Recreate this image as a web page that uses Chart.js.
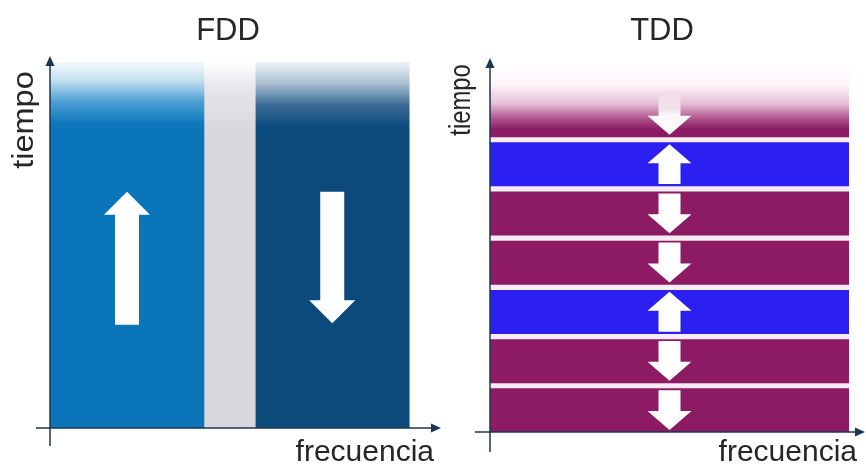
<!DOCTYPE html>
<html lang="es">
<head>
  <meta charset="UTF-8" />
  <title>FDD y TDD</title>
  <script src="https://cdn.jsdelivr.net/npm/chart.js"></script>
  <style>
    body {
      margin: 0;
      background: #ffffff;
      width: 866px;
      height: 469px;
      overflow: hidden;
      position: relative;
    }
    #fdd { position: absolute; left: 0; top: 0; }
    #tdd { position: absolute; left: 433px; top: 0; }
  </style>
</head>
<body>
  <canvas id="fdd" width="450" height="469"></canvas>
  <canvas id="tdd" width="433" height="469"></canvas>

  <script>
    // --- FDD: bandas en frecuencia (unidades arbitrarias) ---
    const fddBandas = ['Subida', 'Guarda', 'Bajada'];
    const fddDesde = [0, 3, 4];
    const fddHasta = [3, 4, 7];
    const fddFrecMax = 7.6;
    // flechas FDD: frecuencia central y tiempo inicio -> fin (escala 0..10)
    const fddFlechaFrec = [1.5, 5.5];
    const fddFlechaDesde = [2.6, 6.6];
    const fddFlechaHasta = [6.6, 2.65];
    const fddTiempoMax = 10;

    // --- TDD: ranuras de tiempo, de abajo hacia arriba ---
    const tddRanuras = ['DL', 'DL', 'UL', 'DL', 'DL', 'UL', 'DL'];
    const tddDesde = [0, 1, 2, 3, 4, 5, 6];
    const tddHasta = [0.88, 1.88, 2.88, 3.88, 4.88, 5.88, 7.5];
    const tddTiempoMax = 7.5;
    // flechas TDD: tiempo inicio / fin de cada flecha dentro de su ranura
    const tddFlechaBajo = [0.04, 1.04, 2.04, 3.04, 4.04, 5.04, 6.04];
    const tddFlechaAlto = [0.85, 1.85, 2.85, 3.85, 4.85, 5.85, 6.85];

    const colorEje = '#1d3650';
    const fuente = '"Liberation Sans", Arial, sans-serif';

    function flecha(ctx, x, yDe, yA, ancho, anchoPunta, largoPunta) {
      const dir = yA > yDe ? 1 : -1;
      const yBase = yA - dir * largoPunta;
      ctx.beginPath();
      ctx.moveTo(x - ancho / 2, yDe);
      ctx.lineTo(x + ancho / 2, yDe);
      ctx.lineTo(x + ancho / 2, yBase);
      ctx.lineTo(x + anchoPunta / 2, yBase);
      ctx.lineTo(x, yA);
      ctx.lineTo(x - anchoPunta / 2, yBase);
      ctx.lineTo(x - ancho / 2, yBase);
      ctx.closePath();
      ctx.fill();
    }

    function ejes(ctx, x0, y0, xIni, xFin, yArriba, yAbajo) {
      ctx.save();
      ctx.strokeStyle = colorEje;
      ctx.fillStyle = colorEje;
      ctx.lineWidth = 1.5;
      ctx.beginPath();
      ctx.moveTo(xIni, y0);
      ctx.lineTo(xFin - 8, y0);
      ctx.moveTo(x0, yAbajo);
      ctx.lineTo(x0, yArriba + 8);
      ctx.stroke();
      ctx.beginPath();
      ctx.moveTo(xFin, y0);
      ctx.lineTo(xFin - 10, y0 - 4.5);
      ctx.lineTo(xFin - 10, y0 + 4.5);
      ctx.closePath();
      ctx.fill();
      ctx.beginPath();
      ctx.moveTo(x0, yArriba);
      ctx.lineTo(x0 - 4.5, yArriba + 10);
      ctx.lineTo(x0 + 4.5, yArriba + 10);
      ctx.closePath();
      ctx.fill();
      ctx.restore();
    }

    // escalaTiempo: estira/comprime la palabra "tiempo" a lo largo del eje
    function textos(ctx, titulo, xTitulo, escalaTiempo, xTiempo, yTiempo, xFrec) {
      ctx.save();
      ctx.fillStyle = '#262626';
      ctx.font = '31px ' + fuente;
      ctx.textAlign = 'center';
      ctx.textBaseline = 'alphabetic';
      ctx.fillText(titulo, xTitulo, 40);
      ctx.font = '30px ' + fuente;
      ctx.textAlign = 'right';
      ctx.fillText('frecuencia', xFrec, 461);
      ctx.translate(xTiempo, yTiempo);
      ctx.rotate(-Math.PI / 2);
      ctx.scale(escalaTiempo, 1);
      ctx.font = '29px ' + fuente;
      ctx.textAlign = 'center';
      ctx.fillText('tiempo', 0, 0);
      ctx.restore();
    }

    function degradado(chart, paradas) {
      const a = chart.chartArea;
      const g = chart.ctx.createLinearGradient(0, a.top, 0, a.top + 72);
      paradas.forEach(p => g.addColorStop(p[0], p[1]));
      return g;
    }

    const fddColores = [
      [[0, '#f4f9fd'], [0.25, '#c6e1f2'], [0.55, '#4d9fd4'], [0.85, '#0f78bd'], [1, '#0b75b9']],
      [[0, '#ffffff'], [0.4, '#e4e4e9'], [1, '#d7d7dc']],
      [[0, '#eef3f7'], [0.3, '#a9bfd1'], [0.6, '#3a6b95'], [0.9, '#0d4c7e'], [1, '#0c4a7c']]
    ];
    const fddSolido = ['#0b75b9', '#d7d7dc', '#0c4a7c'];

    new Chart(document.getElementById('fdd'), {
      type: 'bar',
      data: {
        labels: ['t'],
        datasets: fddBandas.map((b, i) => ({
          label: b,
          data: [[fddDesde[i], fddHasta[i]]],
          backgroundColor: ctx => ctx.chart.chartArea ? degradado(ctx.chart, fddColores[i]) : fddSolido[i],
          borderWidth: 0,
          grouped: false,
          barPercentage: 1,
          categoryPercentage: 1
        }))
      },
      options: {
        indexAxis: 'y',
        responsive: false,
        animation: false,
        events: [],
        layout: { padding: { left: 50, right: 10, top: 62, bottom: 41 } },
        scales: {
          x: { type: 'linear', min: 0, max: fddFrecMax, display: false },
          y: { display: false },
          yT: { type: 'linear', axis: 'y', min: 0, max: fddTiempoMax, display: false }
        },
        plugins: { legend: { display: false }, tooltip: { enabled: false } }
      },
      plugins: [{
        id: 'fddExtras',
        afterDatasetsDraw(chart) {
          const ctx = chart.ctx, a = chart.chartArea;
          const sx = chart.scales.x, st = chart.scales.yT;
          ctx.save();
          ctx.fillStyle = '#ffffff';
          fddFlechaFrec.forEach((f, i) => {
            flecha(ctx, sx.getPixelForValue(f), st.getPixelForValue(fddFlechaDesde[i]),
              st.getPixelForValue(fddFlechaHasta[i]), 24, 46, 23);
          });
          ctx.restore();
          ejes(ctx, a.left, a.bottom, 36, 441, 56, 446);
          textos(ctx, 'FDD', 228, 1.12, 33, 120, 434);
        }
      }]
    });

    const tddColor = { DL: '#8c1b64', UL: '#2b1ff2' };

    new Chart(document.getElementById('tdd'), {
      type: 'bar',
      data: {
        labels: ['banda'],
        datasets: tddRanuras.map((r, i) => ({
          label: r,
          data: [[tddDesde[i], tddHasta[i]]],
          backgroundColor: ctx => {
            const chart = ctx.chart;
            if (i !== tddRanuras.length - 1 || !chart.chartArea) return tddColor[r];
            const sy = chart.scales.y;
            const y0 = sy.getPixelForValue(tddHasta[i]);
            const y1 = sy.getPixelForValue(tddDesde[i]);
            const g = chart.ctx.createLinearGradient(0, y0, 0, y1);
            g.addColorStop(0, '#ffffff');
            g.addColorStop(0.3, '#fdf3f8');
            g.addColorStop(0.55, '#e7bfd6');
            g.addColorStop(0.75, '#b0558f');
            g.addColorStop(0.9, '#8c1b64');
            g.addColorStop(1, '#8c1b64');
            return g;
          },
          borderWidth: 0,
          grouped: false,
          barPercentage: 1,
          categoryPercentage: 1
        }))
      },
      options: {
        responsive: false,
        animation: false,
        events: [],
        layout: { padding: { left: 57, right: 17, top: 63, bottom: 37 } },
        scales: {
          x: { display: false },
          y: { type: 'linear', min: 0, max: tddTiempoMax, display: false }
        },
        plugins: { legend: { display: false }, tooltip: { enabled: false } }
      },
      plugins: [{
        id: 'tddExtras',
        beforeDatasetsDraw(chart) {
          // tono rosado muy claro en los huecos entre ranuras
          const ctx = chart.ctx, a = chart.chartArea;
          const yTop = chart.scales.y.getPixelForValue(tddDesde[tddDesde.length - 1]);
          ctx.save();
          ctx.fillStyle = '#f7ebf4';
          ctx.fillRect(a.left, yTop, a.right - a.left, a.bottom - yTop);
          ctx.restore();
        },
        afterDatasetsDraw(chart) {
          const ctx = chart.ctx, a = chart.chartArea;
          const sx = chart.scales.x, sy = chart.scales.y;
          const xc = sx.getPixelForValue(0);
          ctx.save();
          tddRanuras.forEach((r, i) => {
            const bajo = sy.getPixelForValue(tddFlechaBajo[i]);
            const alto = sy.getPixelForValue(tddFlechaAlto[i]);
            if (i === tddRanuras.length - 1) {
              const g = ctx.createLinearGradient(0, alto, 0, bajo);
              g.addColorStop(0, 'rgba(255,255,255,0.2)');
              g.addColorStop(0.5, 'rgba(255,255,255,0.95)');
              g.addColorStop(1, '#ffffff');
              ctx.fillStyle = g;
            } else {
              ctx.fillStyle = '#ffffff';
            }
            if (r === 'UL') flecha(ctx, xc, bajo, alto, 22, 44, 19);
            else flecha(ctx, xc, alto, bajo, 22, 44, 19);
          });
          ctx.restore();
          ejes(ctx, a.left, a.bottom, 42, 432, 58, 452);
          textos(ctx, 'TDD', 229, 0.82, 37, 100, 424);
        }
      }]
    });
  </script>
</body>
</html>
